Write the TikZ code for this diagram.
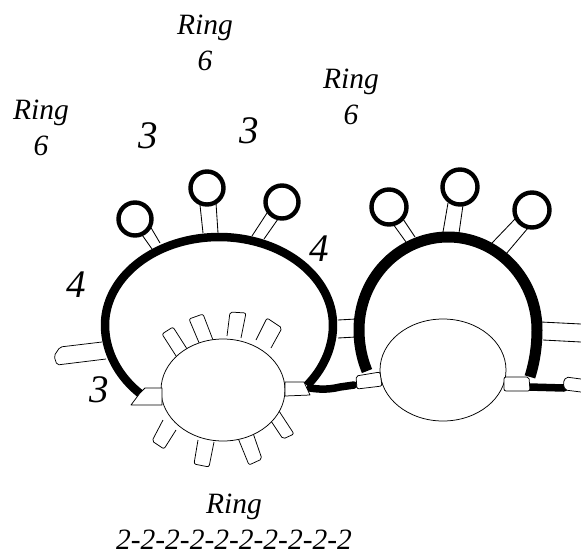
\documentclass[tikz,border=0pt]{standalone}
\usepackage{fontspec}
\setmainfont{Liberation Serif}
\tikzset{
  x=1pt,y=-1pt,
  thin line/.style={draw=black,line width=0.75pt,fill=white},
  stem/.style={draw=black,line width=0.85pt},
  stub/.style={draw=black,line width=0.75pt,fill=white,rounded corners=2pt,line join=round},
  ringA/.style={draw=black,line width=8.5pt,line cap=butt},
  ringB/.style={draw=black,line width=11pt,line cap=butt},
  link/.style={draw=black,line width=7.5pt,line cap=round},
  loopc/.style={draw=black,line width=4.4pt,fill=white,circle,minimum size=33pt,inner sep=0pt},
  lab/.style={font=\itshape\fontsize{29.5}{36}\selectfont,inner sep=0pt,align=center},
  num/.style={font=\itshape\fontsize{39}{40}\selectfont,inner sep=0pt}
}
\begin{document}
\begin{tikzpicture}
\useasboundingbox (0,0) rectangle (581,555);
\fill[white] (0,0) rectangle (581,555);
% stems of first ring
\draw[stem] (140,232)--(152,249) (150,226)--(160,243);
\draw[stem] (200,205)--(203,233) (216,203)--(218,233);
\draw[stem] (267,213)--(252,236) (278,219)--(264,239);
% stems of second ring
\draw[stem] (393,224)--(406,242) (403,219)--(415,237);
\draw[stem] (448,203)--(443,232) (463,205)--(459,233);
\draw[stem] (515,219)--(492,243) (528,228)--(506,254);
\draw[stem] (338,320)--(356,319) (338,338)--(356,337);
\draw[stem] (541,322)--(581,324) (543,340)--(581,342);
% loops
\node[loopc] (c1) at (135,219) {};
\node[loopc] (c2) at (207,188) {};
\node[loopc] (c3) at (282,202) {};
\node[loopc,minimum size=35pt] (c4) at (389,207) {};
\node[loopc,minimum size=35pt] (c5) at (460,187) {};
\node[loopc,minimum size=35pt] (c6) at (532,210) {};
% left stick
\draw[stub] (102,342)--(60,347)--(54,356)--(57,365)--(106,359);
% links
\draw[link] (310,388) .. controls (322,390) and (332,389) .. (340,387) -- (354,385);
\draw[link] (529,387)--(564,388);
% big arcs
\draw[ringA] plot[domain=-39.5:226.8,samples=120] ({219+114*cos(\x)},{325-(sin(\x)>=0?88:95)*sin(\x)});
\draw[ringB] plot[domain=-23:204.5,samples=120] ({448+89*cos(\x)},{330-(sin(\x)>=0?93:(cos(\x)>0?120:99))*sin(\x)});
% small stubs around first inner ring
\draw[stub] (178,359)--(162,334)--(173,327)--(189,352);
\draw[stub] (200,345)--(189,319)--(203,314)--(213,340);
\draw[stub] (227,336)--(230,312)--(246,313)--(241,338);
\draw[stub] (256,340)--(267,318)--(282,328)--(271,348);
\draw[stub] (269,418)--(283,439)--(294,434)--(279,411);
\draw[stub] (238,438)--(249,465)--(262,459)--(253,433);
\draw[stub] (198,440)--(194,464)--(209,467)--(214,442);
\draw[stub] (163,420)--(152,441)--(164,449)--(176,430);
% inner rings
\draw[thin line] (223,390) ellipse [x radius=62,y radius=51];
\draw[thin line] (443,370) ellipse [x radius=63,y radius=51];
% connectors
\draw[thin line,line join=round] (145,388)--(162,388)--(162,405)--(131,405)--(140,393)--cycle;
\draw[thin line,line join=round] (285,382)--(304,382)--(310,395)--(285,396)--cycle;
\draw[stub] (356,376)--(380,372)--(382,386)--(357,389)--cycle;
\draw[stub] (504,377)--(529,377)--(530,391)--(504,391)--cycle;
\draw[stub] (581,379)--(566,377)--(563,383)--(565,390)--(581,392);
% labels
\node[lab] (l1) at (205,43) {Ring\\6};
\node[lab] (l2) at (351,97) {Ring\\6};
\node[lab] (l3) at (41,128) {Ring\\6};
\node[num] (n1) at (148,136) {3};
\node[num] (n2) at (249,131) {3};
\node[num] (n3) at (319,249) {4};
\node[num] (n4) at (76,285) {4};
\node[num] (n5) at (99,390) {3};
\node[lab] (l4) at (234,522) {Ring\\2-2-2-2-2-2-2-2-2-2};
\end{tikzpicture}
\end{document}
